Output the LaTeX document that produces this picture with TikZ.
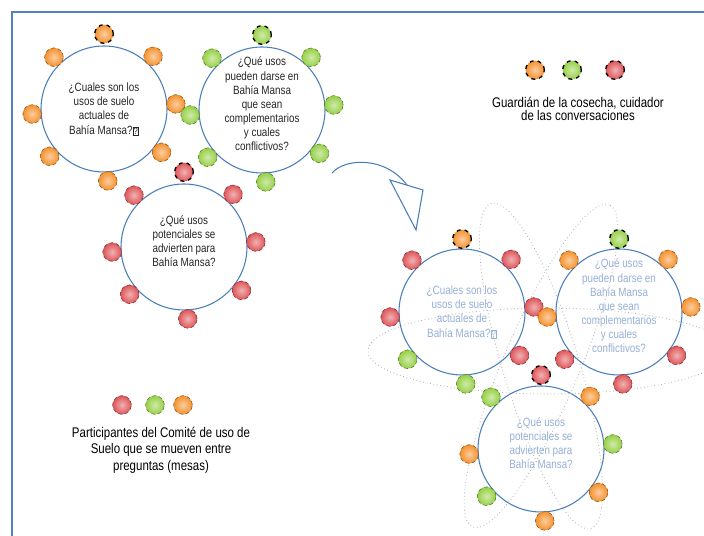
\documentclass[tikz,border=0pt]{standalone}
\usepackage{fontspec}
\setmainfont{Liberation Sans}[FakeStretch=0.82]
\usetikzlibrary{calc}

\definecolor{framebl}{RGB}{79,129,189}
\definecolor{ringbl}{RGB}{74,126,187}
\definecolor{fadebl}{RGB}{150,176,216}
\definecolor{dotor}{RGB}{245,145,45}
\definecolor{dotgr}{RGB}{150,208,70}
\definecolor{dotrd}{RGB}{222,85,88}
\definecolor{orbitgray}{RGB}{175,175,175}
\newcommand{\qmbox}{{\setlength{\fboxsep}{0.4pt}\setlength{\fboxrule}{0.3pt}\fbox{\scriptsize ?}}}

\begin{document}
\begin{tikzpicture}[x=0.75pt, y=0.75pt,
  mesa/.style={circle, draw=ringbl, line width=0.8pt, fill=white, minimum size=94.5pt, inner sep=0pt},
  qtext/.style={align=center, text=#1, font=\fontsize{9}{10.6}\selectfont},
  legend/.style={align=center, font=\fontsize{10.5}{#1}\selectfont},
  dot/.style={circle, minimum size=14pt, inner sep=0pt, inner color=#1!45!white, outer color=#1,
    draw=#1!55!black, densely dashed, line width=0.4pt},
  host/.style={dot=#1, draw=black, dashed, line width=1pt},
  orbit/.style={draw=orbitgray, dotted, line width=0.6pt}]

\useasboundingbox (0,0) rectangle (704,536);

% Frame
\draw[framebl, line width=1pt] (12,0) -- (12,524) -- (704,524);

% Questions (first round)
\node[mesa] (q1) at (104,427) {};
\node[mesa] (q2) at (262,426) {};
\node[mesa] (q3) at (184,289) {};

\node[qtext=black!85] (q1-text) at (q1) {¿Cuales son los\\usos de suelo\\actuales de\\Bahía Mansa?\qmbox};
\node[qtext=black!85] (q2-text) at ([yshift=4.5pt]q2.center) {¿Qué usos\\pueden darse en\\Bahía Mansa\\que sean\\complementarios\\y cuales\\conflictivos?};
\node[qtext=black!85] (q3-text) at ([yshift=4.5pt]q3.center) {¿Qué usos\\potenciales se\\advierten para\\Bahía Mansa?};

\foreach \q/\c in {q1/dotor, q2/dotgr, q3/dotrd} {
  \node[host=\c] (\q-host) at ($(\q)+(90:75)$) {};
  \foreach \a in {47,134,4,184,-37,-139,-87}
    \node[dot=\c] (\q-d\a) at ($(\q)+(\a:72)$) {};
}

% Arrow to the second round
\coordinate (arc-start) at (332,363);
\coordinate (arc-end) at (407,351);
\draw[ringbl, line width=0.8pt] (arc-start) .. controls (345,378) and (385,380) .. (arc-end);
\draw[ringbl, line width=0.8pt, fill=white] (390,356) -- (423,346) -- (416,306) -- cycle;

% Questions (second round)
\node[mesa] (qA) at (462,224) {};
\node[mesa] (qB) at (619,224) {};
\node[mesa] (qC) at (541,87) {};

\draw[orbit] (548,185) ellipse [x radius=180, y radius=43];
\draw[orbit, rotate around={107:(541,170)}] (541,170) ellipse [x radius=170, y radius=38];
\draw[orbit, rotate around={67:(541,170)}] (541,170) ellipse [x radius=175, y radius=38];

\node[qtext=fadebl] (qA-text) at (qA) {¿Cuales son los\\usos de suelo\\actuales de\\Bahía Mansa?\qmbox};
\node[qtext=fadebl] (qB-text) at ([yshift=4.5pt]qB.center) {¿Qué usos\\pueden darse en\\Bahía Mansa\\que sean\\complementarios\\y cuales\\conflictivos?};
\node[qtext=fadebl] (qC-text) at ([yshift=4.5pt]qC.center) {¿Qué usos\\potenciales se\\advierten para\\Bahía Mansa?};

\node[host=dotor] (qA-host) at ($(qA)+(90:73)$) {};
\foreach \a/\c in {47/dotrd,134/dotrd,4/dotrd,184/dotrd,-37/dotrd,-139/dotgr,-87/dotgr}
  \node[dot=\c] (qA-d\a) at ($(qA)+(\a:72)$) {};
\node[host=dotgr] (qB-host) at ($(qB)+(90:73)$) {};
\foreach \a/\c in {47/dotor,134/dotor,4/dotor,184/dotor,-37/dotrd,-139/dotrd,-87/dotrd}
  \node[dot=\c] (qB-d\a) at ($(qB)+(\a:72)$) {};
\node[host=dotrd] (qC-host) at ($(qC)+(90:74)$) {};
\foreach \a/\c in {47/dotor,134/dotgr,4/dotgr,184/dotor,-37/dotor,-139/dotgr,-87/dotor}
  \node[dot=\c] (qC-d\a) at ($(qC)+(\a:72)$) {};

% Legends
\node[host=dotor] (guard-1) at (535,466) {};
\node[host=dotgr] (guard-2) at (572,466) {};
\node[host=dotrd] (guard-3) at (615,466) {};
\node[legend=10] (guard-text) at (578,427) {Guardián de la cosecha, cuidador\\de las conversaciones};

\node[dot=dotrd] (part-1) at (122,131) {};
\node[dot=dotgr] (part-2) at (155,131) {};
\node[dot=dotor] (part-3) at (183,131) {};
\node[legend=12.4] (part-text) at (161,86) {Participantes del Comité de uso de\\Suelo que se mueven entre\\preguntas (mesas)};

\end{tikzpicture}
\end{document}
